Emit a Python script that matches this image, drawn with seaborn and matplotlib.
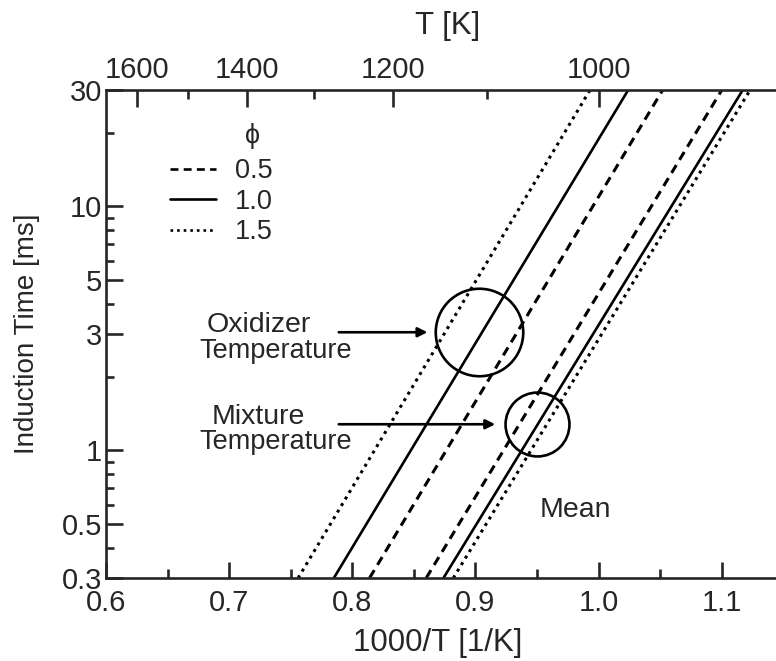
import numpy as np
import pandas as pd
import matplotlib
matplotlib.use("Agg")
import matplotlib.pyplot as plt
import seaborn as sns
from matplotlib.lines import Line2D

sns.set_style("ticks")
plt.rcParams["font.family"] = ["Liberation Sans", "DejaVu Sans"]

# Induction time [ms] at the two ends of each straight Arrhenius line
tau_ends = [0.3, 30.0]
# 1000/T [1/K] where each line reaches 0.3 ms and 30 ms
inv_T_at_short = [0.756, 0.785, 0.814, 0.860, 0.874, 0.882]
inv_T_at_long = [0.993, 1.024, 1.052, 1.100, 1.117, 1.123]
phi_values = ["1.5", "1.0", "0.5", "0.5", "1.0", "1.5"]
temperature_basis = ["Oxidizer", "Oxidizer", "Oxidizer", "Mixture", "Mixture", "Mixture"]

# Circled regions (1000/T, tau) and their diameters in points
circle_x = [0.9025, 0.950]
circle_tau = [3.05, 1.28]
circle_diam = [63.0, 46.0]

# Top axis temperatures
top_major_T = [1600, 1400, 1200, 1000]
top_minor_T = [1500, 1300, 1100]

rows = []
for i in range(len(phi_values)):
    for x, t in zip([inv_T_at_short[i], inv_T_at_long[i]], tau_ends):
        rows.append(dict(inv_T=x, tau=t, phi=phi_values[i],
                         curve=f"{temperature_basis[i]} {phi_values[i]}"))
df = pd.DataFrame(rows)

FS_TICK = 21
FS_TEXT = 19.5
LW = 1.9
W, H = 776, 661
fig = plt.figure(figsize=(W / 100, H / 100), dpi=100)
ax = fig.add_axes([106 / W, 1 - 578 / H, 1 - 106 / W, (578 - 90) / H])

dash_map = {"0.5": (3.0, 2.0), "1.0": "", "1.5": (1.0, 1.5)}
sns.lineplot(data=df, x="inv_T", y="tau", style="phi", units="curve",
             estimator=None, sort=False, dashes=dash_map, color="black",
             lw=LW, legend=False, ax=ax)
# broken lines drawn a little heavier
for ln in ax.lines:
    if ln.get_linestyle() != "-":
        ln.set_linewidth(2.2)

ax.set_yscale("log")
ax.set_xlim(0.6, 1.144)
ax.set_ylim(0.3, 30)

# bottom / left ticks
ax.set_xticks([0.6, 0.7, 0.8, 0.9, 1.0, 1.1])
ax.set_xticklabels(["0.6", "0.7", "0.8", "0.9", "1.0", "1.1"])
ax.set_xticks([0.65, 0.75, 0.85, 0.95, 1.05], minor=True)
y_major = [0.3, 0.5, 1, 3, 5, 10, 30]
ax.set_yticks(y_major)
ax.set_yticklabels(["0.3", "0.5", "1", "3", "5", "10", "30"])
ax.set_yticks([0.4, 0.6, 0.7, 0.8, 0.9, 2, 4, 6, 7, 8, 9, 20], minor=True)
ax.tick_params(which="both", direction="in", width=LW, labelsize=FS_TICK,
               top=False, right=False)
ax.tick_params(axis="x", which="major", length=11.5, pad=8)
ax.tick_params(axis="x", which="minor", length=6.5)
ax.tick_params(axis="y", which="major", length=12, pad=3)
ax.tick_params(axis="y", which="minor", length=6)
for s in ["left", "bottom", "top"]:
    ax.spines[s].set_linewidth(LW)
ax.spines["right"].set_visible(False)

# top temperature axis
ax2 = ax.twiny()
ax2.set_xlim(ax.get_xlim())
ax2.set_xticks([1000 / t for t in top_major_T])
ax2.set_xticklabels([str(t) for t in top_major_T])
ax2.set_xticks([1000 / t for t in top_minor_T], minor=True)
ax2.tick_params(which="both", direction="in", width=LW, labelsize=FS_TICK, pad=4)
ax2.tick_params(which="major", length=12)
ax2.tick_params(which="minor", length=6.5)
for s in ax2.spines.values():
    s.set_visible(False)

# axis titles
ax.set_xlabel("1000/T [1/K]", fontsize=22.5)
ax.xaxis.set_label_coords(438 / W, 1 - 643 / H, transform=fig.transFigure)
ax.xaxis.label.set_va("center")
ax.set_ylabel("Induction Time [ms]", fontsize=20)
ax.yaxis.set_label_coords(27 / W, 1 - 334 / H, transform=fig.transFigure)
ax.yaxis.label.set_va("center")
ax2.set_xlabel("T [K]", fontsize=22.5)
ax2.xaxis.set_label_coords(448 / W, 1 - 26 / H, transform=fig.transFigure)
ax2.xaxis.label.set_va("center")

# circled regions
for cx, ct, cd in zip(circle_x, circle_tau, circle_diam):
    ax.plot([cx], [ct], marker="o", ms=cd, mfc="none", mec="black", mew=LW)

# annotations with arrows
arrow_kw = dict(arrowstyle="-|>", color="black", lw=LW, mutation_scale=14,
                shrinkA=0, shrinkB=0)
ax.annotate("", xy=(0.861, 3.05), xytext=(0.789, 3.05), arrowprops=arrow_kw)
ax.annotate("", xy=(0.916, 1.28), xytext=(0.789, 1.28), arrowprops=arrow_kw)

ax.text(0.724, 3.05, "Oxidizer", ha="center", va="baseline", fontsize=FS_TEXT + 1)
ax.text(0.738, 2.40, "Temperature", ha="center", va="baseline", fontsize=FS_TEXT)
ax.text(0.724, 1.28, "Mixture", ha="center", va="baseline", fontsize=FS_TEXT + 1)
ax.text(0.738, 1.01, "Temperature", ha="center", va="baseline", fontsize=FS_TEXT)
ax.text(0.952, 0.533, "Mean", ha="left", va="baseline", fontsize=20.5)

# legend for equivalence ratio
handles = []
for p in ["0.5", "1.0", "1.5"]:
    h = Line2D([], [], color="black", lw=LW)
    if dash_map[p]:
        h.set_dashes(dash_map[p])
    handles.append(h)
ax.legend(handles, ["0.5", "1.0", "1.5"], loc="upper left",
          bbox_to_anchor=(170 / W, 1 - 158 / H), bbox_transform=fig.transFigure,
          frameon=False, fontsize=FS_TEXT, handlelength=1.7, handletextpad=0.7,
          labelspacing=0.17, borderpad=0, borderaxespad=0)
fig.text(253 / W, 1 - 136 / H, "\u03d5", ha="center", va="center", fontsize=FS_TEXT)

fig.savefig("out.png", dpi=100)
